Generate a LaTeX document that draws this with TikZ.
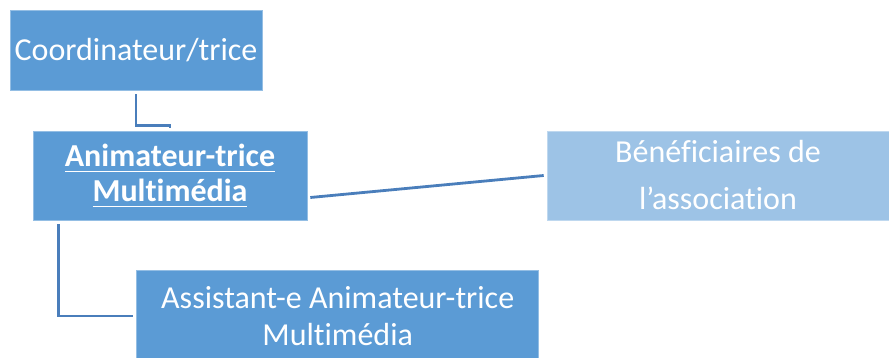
\documentclass[tikz,border=0pt]{standalone}
\usepackage{fontspec}
\setmainfont{Carlito}[Ligatures={NoCommon,NoRare,NoContextual}]
\usepackage{xcolor}
\usepackage{tikz}

\definecolor{boxblue}{HTML}{5B9BD5}
\definecolor{paleblue}{HTML}{9DC3E6}
\definecolor{linkblue}{HTML}{4A7EBB}

% thick underline for the bold title
\newcommand{\thickul}[1]{\setbox0\hbox{#1}\rlap{\vrule width\wd0 height -4.2pt depth 5.8pt}\box0}

\begin{document}
\begin{tikzpicture}[x=1pt, y=1pt,
    role/.style={rectangle, fill=boxblue, draw=white!35!boxblue, line width=0.6pt,
                 text=white, align=center, inner sep=0pt},
    link/.style={draw=linkblue, line width=2.8pt}]
    \useasboundingbox (0,0) rectangle (889,-358);

    \node (coord) [role, minimum width=252pt, minimum height=80pt,
        font=\fontsize{32}{38}\selectfont] at (136,-50) {Coordinateur/trice};
    \node (anim) [role, minimum width=274pt, minimum height=89pt,
        font=\fontsize{32}{35}\selectfont\bfseries] at (170,-175.5)
        {\thickul{Animateur-trice}\\\thickul{Multimédia}};
    \node (benef) [role, fill=paleblue, draw=white!35!paleblue, minimum width=342pt,
        minimum height=89pt, font=\fontsize{32}{47}\selectfont] at (718,-175.5)
        {Bénéficiaires de\\l’association};
    \node (assist) [role, minimum width=402pt, minimum height=92pt,
        font=\fontsize{32}{37.5}\selectfont] at (337.7,-316)
        {Assistant-e Animateur-trice\\Multimédia};

    \draw[link] ([yshift=-4pt]coord.south) -- ++(0,-31pt) -| ([yshift=3pt]anim.north);
    \draw[link] ([xshift=26pt, yshift=-4pt]anim.south west) |- ([xshift=-3pt]assist.west);
    \draw[link] ([xshift=3pt, yshift=-22pt]anim.east) -- ([xshift=-3pt]benef.west);
\end{tikzpicture}
\end{document}
